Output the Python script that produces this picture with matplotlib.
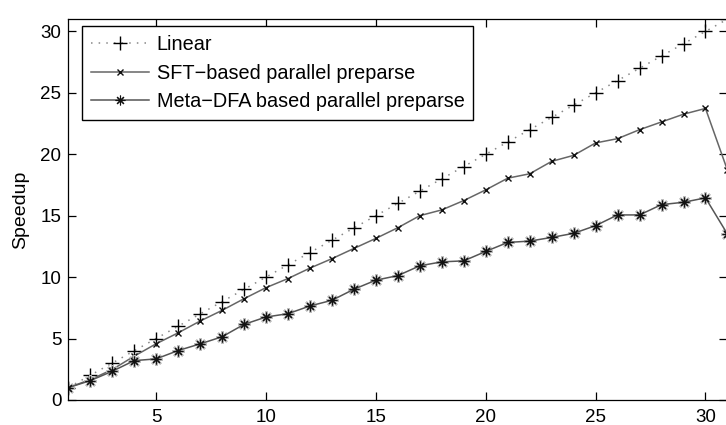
import matplotlib
matplotlib.use("Agg")
import matplotlib.pyplot as plt

plt.rcParams['font.family'] = ['Liberation Sans', 'DejaVu Sans']

procs = list(range(1, 32))
linear = procs[:]
sft = [1.0, 1.65, 2.47, 3.56, 4.57, 5.46, 6.42, 7.29, 8.24, 9.14, 9.88, 10.73, 11.5,
       12.33, 13.15, 14.02, 15.0, 15.47, 16.23, 17.1, 18.05, 18.41, 19.42, 19.91,
       20.92, 21.27, 22.0, 22.63, 23.26, 23.73, 18.7]
meta = [1.0, 1.57, 2.33, 3.2, 3.34, 4.02, 4.56, 5.14, 6.15, 6.75, 7.02, 7.65, 8.11,
        9.01, 9.75, 10.12, 10.92, 11.24, 11.32, 12.09, 12.82, 12.93, 13.23, 13.56,
        14.19, 15.06, 15.06, 15.9, 16.09, 16.45, 13.5]
xticks = [5, 10, 15, 20, 25, 30]
yticks = [0, 5, 10, 15, 20, 25, 30]

fig = plt.figure(figsize=(7.26, 4.25), dpi=100)
ax = fig.add_axes([0.094, 0.059, 0.908, 0.896])

ast = (8, 2, 0)

ax.plot(procs, linear, linestyle=(0, (1, 4)), color='#888888', linewidth=1.1,
        marker='+', markersize=10, markeredgecolor='black', markeredgewidth=1.0,
        label='Linear')
ax.plot(procs, sft, linestyle='-', color='#666666', linewidth=1.1,
        marker='x', markersize=4.5, markeredgecolor='#111111', markeredgewidth=1.0,
        label='SFT\u2212based parallel preparse')
# light gray halo under the asterisks
ax.plot(procs, meta, linestyle='none', marker=ast, markersize=9,
        markeredgecolor='#bbbbbb', markeredgewidth=1.6)
ax.plot(procs, meta, linestyle='-', color='#555555', linewidth=1.1,
        marker=ast, markersize=7, markeredgecolor='#111111', markeredgewidth=0.8,
        label='Meta\u2212DFA based parallel preparse')

ax.set_xlim(1, 31)
ax.set_ylim(0, 31)
ax.set_xticks(xticks)
ax.set_yticks(yticks)
ax.tick_params(direction='in', top=True, right=True, length=6, width=0.9,
               labelsize=13.5, colors='black')
ax.tick_params(axis='y', pad=5)
ax.tick_params(axis='x', pad=6.5)
for s in ax.spines.values():
    s.set_linewidth(0.9)
ax.set_ylabel('Speedup', fontsize=14, labelpad=8)

leg = ax.legend(loc='upper left', bbox_to_anchor=(0.021, 0.981), fontsize=14.3,
                numpoints=1, handlelength=2.9, handletextpad=0.4,
                borderpad=0.45, labelspacing=0.48, fancybox=False,
                edgecolor='black', framealpha=1.0, borderaxespad=0.0)
leg.get_frame().set_linewidth(1.0)

fig.savefig('out.png', dpi=100)
